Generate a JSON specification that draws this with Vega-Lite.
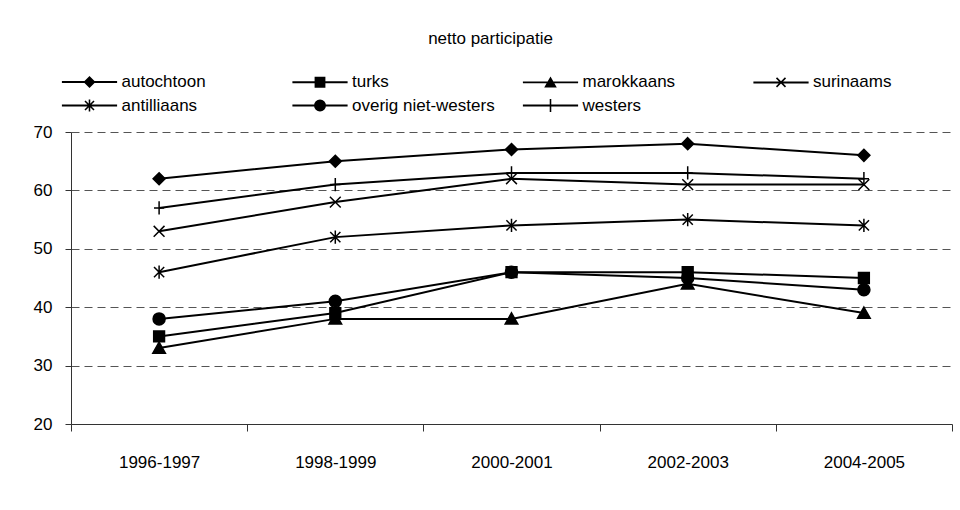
{
  "$schema": "https://vega.github.io/schema/vega-lite/v6.json",
  "width": 881,
  "height": 292,
  "autosize": {"type": "none"},
  "padding": {"left": 71, "top": 132, "right": 8, "bottom": 86},
  "background": "white",
  "title": {"text": "netto participatie", "font": "Liberation Sans", "fontSize": 17, "fontWeight": "normal", "color": "black", "anchor": "middle", "dx": -21, "offset": 25},
  "config": {"view": {"stroke": null}, "font": "Liberation Sans"},
  "data": {"values": [
    {"period": "1996-1997", "series": "autochtoon", "value": 62},
    {"period": "1998-1999", "series": "autochtoon", "value": 65},
    {"period": "2000-2001", "series": "autochtoon", "value": 67},
    {"period": "2002-2003", "series": "autochtoon", "value": 68},
    {"period": "2004-2005", "series": "autochtoon", "value": 66},
    {"period": "1996-1997", "series": "turks", "value": 35},
    {"period": "1998-1999", "series": "turks", "value": 39},
    {"period": "2000-2001", "series": "turks", "value": 46},
    {"period": "2002-2003", "series": "turks", "value": 46},
    {"period": "2004-2005", "series": "turks", "value": 45},
    {"period": "1996-1997", "series": "marokkaans", "value": 33},
    {"period": "1998-1999", "series": "marokkaans", "value": 38},
    {"period": "2000-2001", "series": "marokkaans", "value": 38},
    {"period": "2002-2003", "series": "marokkaans", "value": 44},
    {"period": "2004-2005", "series": "marokkaans", "value": 39},
    {"period": "1996-1997", "series": "surinaams", "value": 53},
    {"period": "1998-1999", "series": "surinaams", "value": 58},
    {"period": "2000-2001", "series": "surinaams", "value": 62},
    {"period": "2002-2003", "series": "surinaams", "value": 61},
    {"period": "2004-2005", "series": "surinaams", "value": 61},
    {"period": "1996-1997", "series": "antilliaans", "value": 46},
    {"period": "1998-1999", "series": "antilliaans", "value": 52},
    {"period": "2000-2001", "series": "antilliaans", "value": 54},
    {"period": "2002-2003", "series": "antilliaans", "value": 55},
    {"period": "2004-2005", "series": "antilliaans", "value": 54},
    {"period": "1996-1997", "series": "overig niet-westers", "value": 38},
    {"period": "1998-1999", "series": "overig niet-westers", "value": 41},
    {"period": "2000-2001", "series": "overig niet-westers", "value": 46},
    {"period": "2002-2003", "series": "overig niet-westers", "value": 45},
    {"period": "2004-2005", "series": "overig niet-westers", "value": 43},
    {"period": "1996-1997", "series": "westers", "value": 57},
    {"period": "1998-1999", "series": "westers", "value": 61},
    {"period": "2000-2001", "series": "westers", "value": 63},
    {"period": "2002-2003", "series": "westers", "value": 63},
    {"period": "2004-2005", "series": "westers", "value": 62}
  ]},
  "encoding": {
    "x": {"field": "period", "type": "ordinal", "sort": null,
      "scale": {"type": "band", "paddingInner": 0, "paddingOuter": 0},
      "axis": {"title": null, "labelAngle": 0, "tickBand": "extent", "tickSize": 7, "labelPadding": 23, "labelFontSize": 17, "labelFont": "Liberation Sans", "labelColor": "black", "domainColor": "#333", "tickColor": "#333", "grid": false}},
    "y": {"field": "value", "type": "quantitative",
      "scale": {"domain": [20, 70], "nice": false, "zero": false},
      "axis": {"title": null, "values": [20, 30, 40, 50, 60, 70], "tickSize": 6, "labelPadding": 13, "grid": true, "gridDash": [8, 5], "gridColor": "#555", "labelFontSize": 17, "labelFont": "Liberation Sans", "labelColor": "black", "domainColor": "#333", "tickColor": "#333"}}
  },
  "layer": [
    {"mark": {"type": "line", "color": "black", "strokeWidth": 2}, "encoding": {"detail": {"field": "series"}}},
    {"mark": {"type": "point", "filled": true, "fill": "black", "stroke": "black", "strokeWidth": 1.5, "size": 144, "opacity": 1},
     "encoding": {"shape": {"field": "series", "legend": null,
       "scale": {"domain": ["autochtoon", "turks", "marokkaans", "surinaams", "antilliaans", "overig niet-westers", "westers"],
         "range": ["M0,-1L1,0L0,1L-1,0Z", "M-0.9,-0.9L0.9,-0.9L0.9,0.9L-0.9,0.9Z", "M0,-1L1.05,0.85L-1.05,0.85Z", "M-0.9,-0.9L0.9,0.9M-0.9,0.9L0.9,-0.9", "M-0.85,-0.85L0.85,0.85M-0.85,0.85L0.85,-0.85M0,-1.1L0,1.1", "circle", "M0,-1.1L0,1.1M-0.85,0L0.85,0"]}}}},
    {"transform": [{"filter": "datum.value > 1000"}],
     "mark": {"type": "point", "filled": true, "fill": "black", "stroke": "black", "strokeWidth": 1.8, "size": 144, "opacity": 1},
     "encoding": {"shape": {"field": "series", "title": null,
       "scale": {"domain": ["autochtoon", "turks", "marokkaans", "surinaams", "antilliaans", "overig niet-westers", "westers"],
         "range": [
           "M-4.6,-0.16L4.6,-0.16L4.6,0.16L-4.6,0.16ZM0,-1L1,0L0,1L-1,0Z",
           "M-4.6,-0.16L4.6,-0.16L4.6,0.16L-4.6,0.16ZM-0.9,-0.9L0.9,-0.9L0.9,0.9L-0.9,0.9Z",
           "M-4.6,-0.16L4.6,-0.16L4.6,0.16L-4.6,0.16ZM0,-1L1.05,0.85L-1.05,0.85Z",
           "M-4.6,-0.16L4.6,-0.16L4.6,0.16L-4.6,0.16ZM-0.658,-0.842L0.842,0.658L0.658,0.842L-0.842,-0.658ZM-0.842,0.658L0.658,-0.842L0.842,-0.658L-0.658,0.842Z",
           "M-4.6,-0.16L4.6,-0.16L4.6,0.16L-4.6,0.16ZM-0.658,-0.842L0.842,0.658L0.658,0.842L-0.842,-0.658ZM-0.842,0.658L0.658,-0.842L0.842,-0.658L-0.658,0.842ZM-0.13,-1L0.13,-1L0.13,1L-0.13,1Z",
           "M-4.6,-0.16L4.6,-0.16L4.6,0.16L-4.6,0.16ZM0,-1L0.383,-0.924L0.707,-0.707L0.924,-0.383L1,0L0.924,0.383L0.707,0.707L0.383,0.924L0,1L-0.383,0.924L-0.707,0.707L-0.924,0.383L-1,0L-0.924,-0.383L-0.707,-0.707L-0.383,-0.924Z",
           "M-4.6,-0.16L4.6,-0.16L4.6,0.16L-4.6,0.16ZM-0.13,-1.1L0.13,-1.1L0.13,1.1L-0.13,1.1Z"]},
       "legend": {"orient": "none", "legendX": 10, "legendY": -59, "direction": "horizontal", "columns": 4, "gridAlign": "all", "columnPadding": 23.5, "rowPadding": 3, "padding": 0, "labelFontSize": 17, "labelFont": "Liberation Sans", "labelColor": "black", "symbolOpacity": 1, "symbolFillColor": "black", "symbolStrokeColor": "black", "symbolStrokeWidth": 1.8, "symbolSize": 144, "labelOffset": 23.5}}}}
  ],
  "resolve": {"scale": {"shape": "independent"}}
}
